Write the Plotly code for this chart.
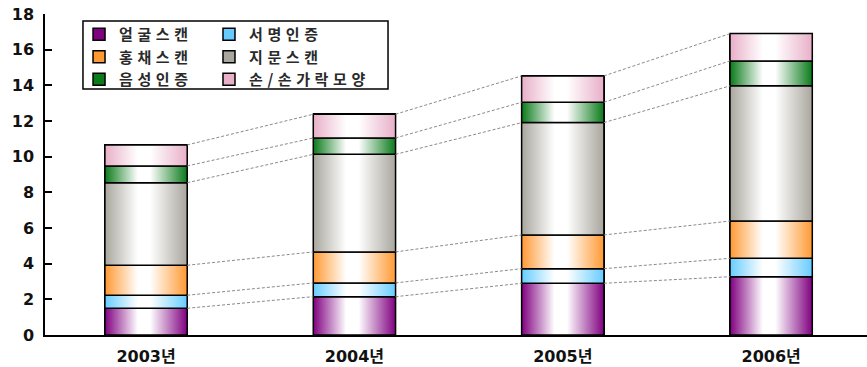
import plotly.graph_objects as go

# Categories and stacked series values (bottom to top)
years = ["2003년", "2004년", "2005년", "2006년"]
face = [1.50, 2.15, 2.90, 3.27]        # 얼굴스캔
signature = [0.73, 0.77, 0.82, 1.03]   # 서명인증
iris = [1.68, 1.74, 1.89, 2.09]        # 홍채스캔
finger = [4.63, 5.47, 6.30, 7.58]      # 지문스캔
voice = [0.94, 0.92, 1.14, 1.40]       # 음성인증
hand = [1.18, 1.33, 1.48, 1.53]        # 손/손가락모양
y_ticks = [0, 2, 4, 6, 8, 10, 12, 14, 16, 18]

series = [
    ("얼굴스캔", face, "#800080", "legend"),
    ("서명인증", signature, "#66CCFF", "legend2"),
    ("홍채스캔", iris, "#FF9933", "legend"),
    ("지문스캔", finger, "#A8A69D", "legend2"),
    ("음성인증", voice, "#0A7A1A", "legend"),
    ("손/손가락모양", hand, "#E8AFC8", "legend2"),
]

BAR_W = 0.395
xs = list(range(len(years)))


def spaced(label):
    # widen the legend lettering a little
    return f'<span style="letter-spacing:4.6px">{label}</span>'


fig = go.Figure()

# Solid stacked bars (also provide the legend swatches)
for name, vals, color, leg in series:
    fig.add_trace(go.Bar(
        x=xs, y=vals, name=spaced(name), width=BAR_W, legend=leg,
        marker=dict(color=color, line=dict(color="black", width=1.5)),
        hoverinfo="skip",
    ))

# Horizontal gradient overlay for every stacked segment
base = [0.0] * len(years)
tops = []
for name, vals, color, leg in series:
    seg_tops = []
    for i, v in enumerate(vals):
        x0, x1 = xs[i] - BAR_W / 2, xs[i] + BAR_W / 2
        y0, y1 = base[i], base[i] + v
        fig.add_trace(go.Scatter(
            x=[x0, x1, x1, x0, x0], y=[y0, y0, y1, y1, y0],
            mode="lines", fill="toself",
            fillgradient=dict(
                type="horizontal",
                colorscale=[[0, color], [0.4, "#FFFFFF"], [0.55, "#FFFFFF"], [1, color]],
            ),
            line=dict(color="black", width=1.5),
            showlegend=False, hoverinfo="skip",
        ))
        seg_tops.append(y1)
    base = seg_tops
    tops.append(seg_tops)

# Dashed connectors between the tops of matching segments
for seg_tops in tops:
    for i in range(len(years) - 1):
        fig.add_trace(go.Scatter(
            x=[xs[i] + BAR_W / 2, xs[i + 1] - BAR_W / 2],
            y=[seg_tops[i], seg_tops[i + 1]],
            mode="lines",
            line=dict(color="#8A8A8A", width=1, dash="3px,2px"),
            showlegend=False, hoverinfo="skip",
        ))

legend_font = dict(family="Noto Sans CJK KR", size=15, color="#2A2A2A", weight="bold")
tick_font = dict(family="DejaVu Sans, Noto Sans CJK KR", size=16, color="#111111", weight="bold")

fig.update_layout(
    width=867, height=367,
    margin=dict(l=45, r=0, t=14, b=32),
    paper_bgcolor="white", plot_bgcolor="white",
    barmode="stack",
    legend=dict(x=0.0414, y=0.9875, xanchor="left", yanchor="top",
                traceorder="normal", font=legend_font,
                bgcolor="rgba(0,0,0,0)", borderwidth=0),
    legend2=dict(x=0.1995, y=0.9875, xanchor="left", yanchor="top",
                 traceorder="normal", font=legend_font,
                 bgcolor="rgba(0,0,0,0)", borderwidth=0),
    shapes=[dict(type="rect", xref="paper", yref="paper",
                 x0=0.0462, x1=0.4173, y0=0.7664, y1=0.9782,
                 line=dict(color="black", width=1.5), fillcolor="rgba(0,0,0,0)")],
    xaxis=dict(
        range=[-0.485, 3.46], tickmode="array", tickvals=xs, ticktext=years,
        showgrid=False, zeroline=False, showline=True, linecolor="black", linewidth=1.5,
        ticks="", tickfont=tick_font, ticklabelstandoff=6,
    ),
    yaxis=dict(
        range=[0, 18], tickmode="array", tickvals=y_ticks,
        showgrid=False, zeroline=False, showline=True, linecolor="black", linewidth=1.5,
        ticks="inside", ticklen=7, tickcolor="black", tickwidth=1.5,
        tickfont=tick_font, ticklabelstandoff=6,
    ),
    showlegend=True,
)

fig.write_html("out.html")
